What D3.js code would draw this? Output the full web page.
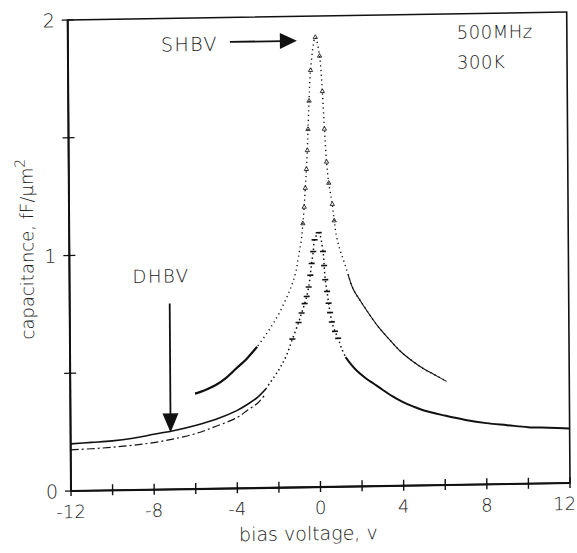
<!DOCTYPE html>
<html><head><meta charset="utf-8">
<script src="https://cdn.jsdelivr.net/npm/d3@7/dist/d3.min.js"></script>
<style>
html,body{margin:0;padding:0;background:#fff;}
text{font-family:"DejaVu Sans",sans-serif;font-weight:200;fill:#1a1a1a;}
</style></head>
<body><svg id="chart" width="577" height="553"></svg>
<script>
// ---- data ----
const shbvV = [-6.0,-5.5,-5.0,-4.5,-4.0,-3.5,-3.0,-2.5,-2.2,-1.9,-1.6,-1.4,-1.25,-1.1,-0.98,-0.84,-0.76,-0.69,-0.63,-0.57,-0.52,-0.48,-0.42,-0.34,-0.1,
               0.1,0.22,0.31,0.4,0.5,0.66,0.75,0.84,1.0,1.19,1.4,1.63,2.0,2.33,2.8,3.38,3.9,4.44,5.0,5.5,6.1];
const shbvC = [0.405,0.42,0.44,0.47,0.51,0.55,0.60,0.66,0.70,0.745,0.80,0.84,0.875,0.92,0.98,1.05,1.12,1.19,1.27,1.35,1.43,1.52,1.64,1.77,1.91,
               1.83,1.68,1.52,1.38,1.29,1.20,1.13,1.07,1.01,0.96,0.90,0.84,0.785,0.74,0.68,0.62,0.57,0.53,0.495,0.47,0.44];

const dhbvV = [-12,-11,-10,-9,-8,-7,-6,-5,-4,-3.5,-3.0,-2.6,-2.2,-1.9,-1.6,-1.3,-1.0,-0.85,-0.7,-0.6,-0.5,-0.42,-0.35,-0.27,-0.2,0.0,
               0.2,0.25,0.3,0.38,0.45,0.52,0.6,0.75,0.9,1.05,1.25,1.5,1.8,2.2,2.6,3.0,3.5,4.0,4.5,5.0,6.0,7.0,8.0,9.0,10.0,11.0,12.0];
const dhbvC = [0.20,0.205,0.21,0.22,0.235,0.25,0.27,0.295,0.33,0.355,0.385,0.42,0.47,0.51,0.56,0.63,0.70,0.74,0.78,0.81,0.85,0.90,0.95,1.00,1.05,1.08,
               1.00,0.94,0.88,0.83,0.78,0.74,0.70,0.66,0.63,0.59,0.55,0.52,0.49,0.46,0.435,0.41,0.38,0.355,0.335,0.318,0.295,0.275,0.26,0.25,0.24,0.236,0.232];

const fitV = [-12,-11,-10,-9,-8,-7,-6,-5,-4,-3.5,-3.0,-2.6];
const fitC = [0.175,0.178,0.183,0.19,0.20,0.215,0.235,0.265,0.30,0.33,0.36,0.40];

const xTicks = [-12,-10,-8,-6,-4,-2,0,2,4,6,8,10,12];
const xTickLabels = [-12,-8,-4,0,4,8,12];
const yTicks = [0,0.5,1,1.5,2];
const yTickLabels = [0,1,2];

// ---- layout ----
const svg = d3.select("#chart");
const g = svg.append("g").attr("transform","matrix(1,-0.016,0.007,1,-3.44,1.14)");
const x = d3.scaleLinear().domain([-12,12]).range([71,570]);
const y = d3.scaleLinear().domain([0,2]).range([491,20]);

const zip = (a,b)=>a.map((v,i)=>({v:v,c:b[i]}));
const shbv = zip(shbvV, shbvC), dhbv = zip(dhbvV, dhbvC), fit = zip(fitV, fitC);

g.append("rect").attr("x",x(-12)).attr("y",y(2)).attr("width",x(12)-x(-12)).attr("height",y(0)-y(2))
  .attr("fill","none").attr("stroke","#111").attr("stroke-width",1.6);
g.append("line").attr("x1",x(-12)).attr("x2",x(12)).attr("y1",y(0)).attr("y2",y(0))
  .attr("stroke","#111").attr("stroke-width",2.2);
g.append("line").attr("x1",x(-12)).attr("x2",x(-12)).attr("y1",y(0)).attr("y2",y(2))
  .attr("stroke","#111").attr("stroke-width",2);

g.selectAll(".xt").data(xTicks).enter().append("line")
  .attr("x1",d=>x(d)).attr("x2",d=>x(d)).attr("y1",y(0)-6).attr("y2",y(0)+5)
  .attr("stroke","#111").attr("stroke-width",1.4);
g.selectAll(".xl").data(xTickLabels).enter().append("text")
  .attr("x",d=>d===12?576:x(d)).attr("y",y(0)+27).attr("text-anchor",d=>d===12?"end":"middle").attr("font-size",18)
  .text(d=>d<0?"-"+Math.abs(d):d);
g.selectAll(".yt").data(yTicks).enter().append("line")
  .attr("x1",x(-12)-6).attr("x2",x(-12)+6).attr("y1",d=>y(d)).attr("y2",d=>y(d))
  .attr("stroke","#111").attr("stroke-width",1.4);
g.selectAll(".yl").data(yTickLabels).enter().append("text")
  .attr("x",x(-12)-13).attr("y",d=>y(d)+7).attr("text-anchor","end").attr("font-size",19)
  .text(d=>d);

g.append("text").attr("x",x(-0.6)).attr("y",544).attr("text-anchor","middle").attr("font-size",19)
  .text("bias voltage, v");
const yt = g.append("text").attr("transform","translate(35,"+y(1.03)+") rotate(-90)")
  .attr("text-anchor","middle").attr("font-size",18);
yt.append("tspan").text("capacitance, fF/\u03bcm");
yt.append("tspan").attr("dy",-8).attr("font-size",14).text("2");

const line = d3.line().x(d=>x(d.v)).y(d=>y(d.c)).curve(d3.curveCatmullRom);
g.append("path").datum(shbv).attr("d",line.defined(d=>d.c<=0.62 && d.v<0)).attr("fill","none")
  .attr("stroke","#111").attr("stroke-width",2.2);
g.append("path").datum(shbv).attr("d",line.defined(d=>d.c<=0.9 && d.v>0)).attr("fill","none")
  .attr("stroke","#111").attr("stroke-width",1.1);
g.append("path").datum(shbv).attr("d",line.defined(d=>true)).attr("fill","none")
  .attr("stroke","#111").attr("stroke-width",1.4).attr("stroke-dasharray","1.2,3.5");
g.selectAll(".sp").data(shbv.filter(d=>d.c>1.1)).enter().append("path")
  .attr("transform",d=>"translate("+x(d.v)+","+y(d.c)+")")
  .attr("d",d3.symbol(d3.symbolTriangle,8)).attr("fill","none").attr("stroke","#222").attr("stroke-width",0.9);

g.append("path").datum(dhbv).attr("d",line.defined(d=>d.v<=-2.6)).attr("fill","none")
  .attr("stroke","#111").attr("stroke-width",1.6);
g.append("path").datum(dhbv).attr("d",line.defined(d=>d.v>=1.25)).attr("fill","none")
  .attr("stroke","#111").attr("stroke-width",2.0);
g.append("path").datum(dhbv).attr("d",line.defined(d=>d.v>=-2.6 && d.v<=1.25)).attr("fill","none")
  .attr("stroke","#111").attr("stroke-width",1.5).attr("stroke-dasharray","1.5,3");
g.selectAll(".dp").data(dhbv.filter(d=>d.c>0.6)).enter().append("rect")
  .attr("x",d=>x(d.v)-3).attr("y",d=>y(d.c)-0.8).attr("width",6).attr("height",1.6).attr("fill","#111");
g.append("path").datum(fit).attr("d",line.defined(d=>true)).attr("fill","none")
  .attr("stroke","#111").attr("stroke-width",1.2).attr("stroke-dasharray","8,3,2,3");

g.append("text").attr("x",164).attr("y",53).attr("font-size",19).attr("letter-spacing",1.5).text("SHBV");
g.append("line").attr("x1",233).attr("x2",286).attr("y1",44.5).attr("y2",44.5).attr("stroke","#111").attr("stroke-width",1.8);
g.append("path").attr("d","M283,36.5 L300,44.5 L283,52.5 Z").attr("fill","#111");
g.append("text").attr("x",460).attr("y",45).attr("font-size",18).attr("letter-spacing",0.5).text("500MHz");
g.append("text").attr("x",460).attr("y",75).attr("font-size",18).attr("letter-spacing",0.5).text("300K");
g.append("text").attr("x",134).attr("y",284).attr("font-size",18).attr("letter-spacing",1.5).text("DHBV");
g.append("line").attr("x1",171).attr("x2",171).attr("y1",305).attr("y2",420).attr("stroke","#111").attr("stroke-width",1.8);
g.append("path").attr("d","M163,415 L179,415 L171,434 Z").attr("fill","#111");
</script></body></html>
